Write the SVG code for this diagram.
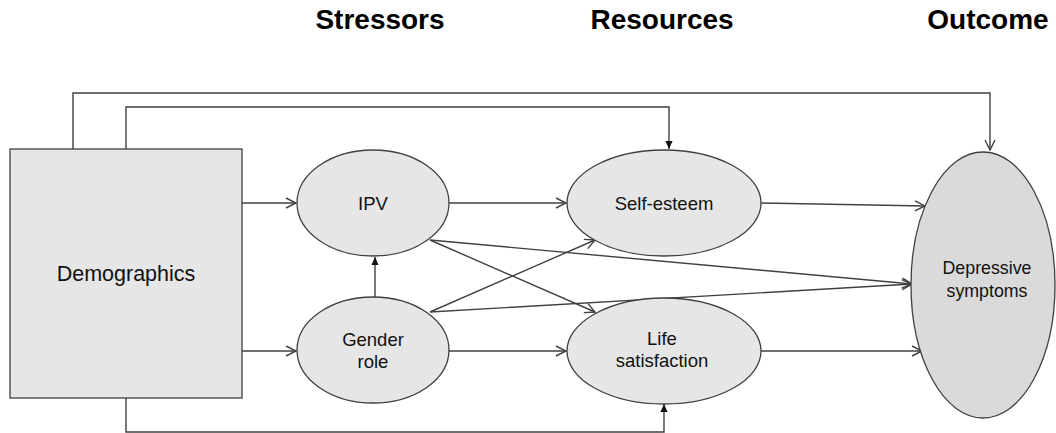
<svg xmlns="http://www.w3.org/2000/svg" width="1056" height="433" viewBox="0 0 1056 433">
<style>
.node{fill:#e6e6e6;stroke:#404040;stroke-width:1.3}
.dep{fill:#dadada;stroke:#404040;stroke-width:1.3}
.t{font-family:"Liberation Sans",Arial,sans-serif;font-size:18.5px;fill:#111;text-anchor:middle}
.h{font-family:"Liberation Sans",Arial,sans-serif;font-size:28px;font-weight:bold;fill:#000;text-anchor:middle}
.c{fill:none;stroke:#404040;stroke-width:1.4}
.o{marker-end:url(#open)}
.f{marker-end:url(#fill)}
</style>
<defs>
<marker id="open" viewBox="0 0 12 12" refX="11" refY="6" markerWidth="12" markerHeight="12" markerUnits="userSpaceOnUse" orient="auto">
<path d="M1,1 L11,6 L1,11" fill="none" stroke="#404040" stroke-width="1.4"/>
</marker>
<marker id="fill" viewBox="0 0 10 10" refX="9" refY="5" markerWidth="9" markerHeight="9" markerUnits="userSpaceOnUse" orient="auto">
<path d="M0,1 L9,5 L0,9 Z" fill="#111"/>
</marker>
</defs>
<g id="headers">
<text class="h" x="380" y="29">Stressors</text>
<text class="h" x="662" y="29">Resources</text>
<text class="h" x="988" y="29">Outcome</text>
</g>
<g id="connectors">
<line class="c o" x1="242" y1="203" x2="296" y2="203"/>
<line class="c o" x1="242" y1="351" x2="296" y2="351"/>
<line class="c o" x1="449" y1="203" x2="566" y2="203"/>
<line class="c o" x1="449" y1="351" x2="566" y2="351"/>
<line class="c f" x1="375" y1="297" x2="375" y2="257"/>
<line class="c o" x1="430" y1="240" x2="595" y2="312"/>
<line class="c o" x1="430" y1="312" x2="595" y2="240"/>
<line class="c o" x1="430" y1="240" x2="912" y2="284"/>
<line class="c o" x1="430" y1="312" x2="912" y2="284"/>
<line class="c o" x1="761" y1="203" x2="925" y2="206"/>
<line class="c o" x1="761" y1="351" x2="922" y2="351"/>
<polyline class="c o" points="73,149 73,93 990,93 990,150"/>
<polyline class="c f" points="126,149 126,107 669,107 669,149"/>
<polyline class="c f" points="126,398 126,432 664,432 664,404"/>
</g>
<g id="demographics">
<rect class="node" x="10" y="149" width="232" height="249"/>
<text class="t" x="126" y="281" style="font-size:21.5px">Demographics</text>
</g>
<g id="ipv">
<ellipse class="node" cx="373" cy="203" rx="76" ry="53"/>
<text class="t" x="373" y="210">IPV</text>
</g>
<g id="gender-role">
<ellipse class="node" cx="373" cy="350" rx="76" ry="53"/>
<text class="t" x="373" y="346">Gender</text>
<text class="t" x="373" y="368">role</text>
</g>
<g id="self-esteem">
<ellipse class="node" cx="664" cy="203" rx="97" ry="53"/>
<text class="t" x="664" y="210">Self-esteem</text>
</g>
<g id="life-satisfaction">
<ellipse class="node" cx="664" cy="351" rx="97" ry="53"/>
<text class="t" x="662" y="345">Life</text>
<text class="t" x="662" y="367">satisfaction</text>
</g>
<g id="depressive-symptoms">
<ellipse class="dep" cx="983" cy="285" rx="72" ry="133"/>
<text class="t" x="987" y="274" style="font-size:17.8px">Depressive</text>
<text class="t" x="987" y="297" style="font-size:17.8px">symptoms</text>
</g>
</svg>
